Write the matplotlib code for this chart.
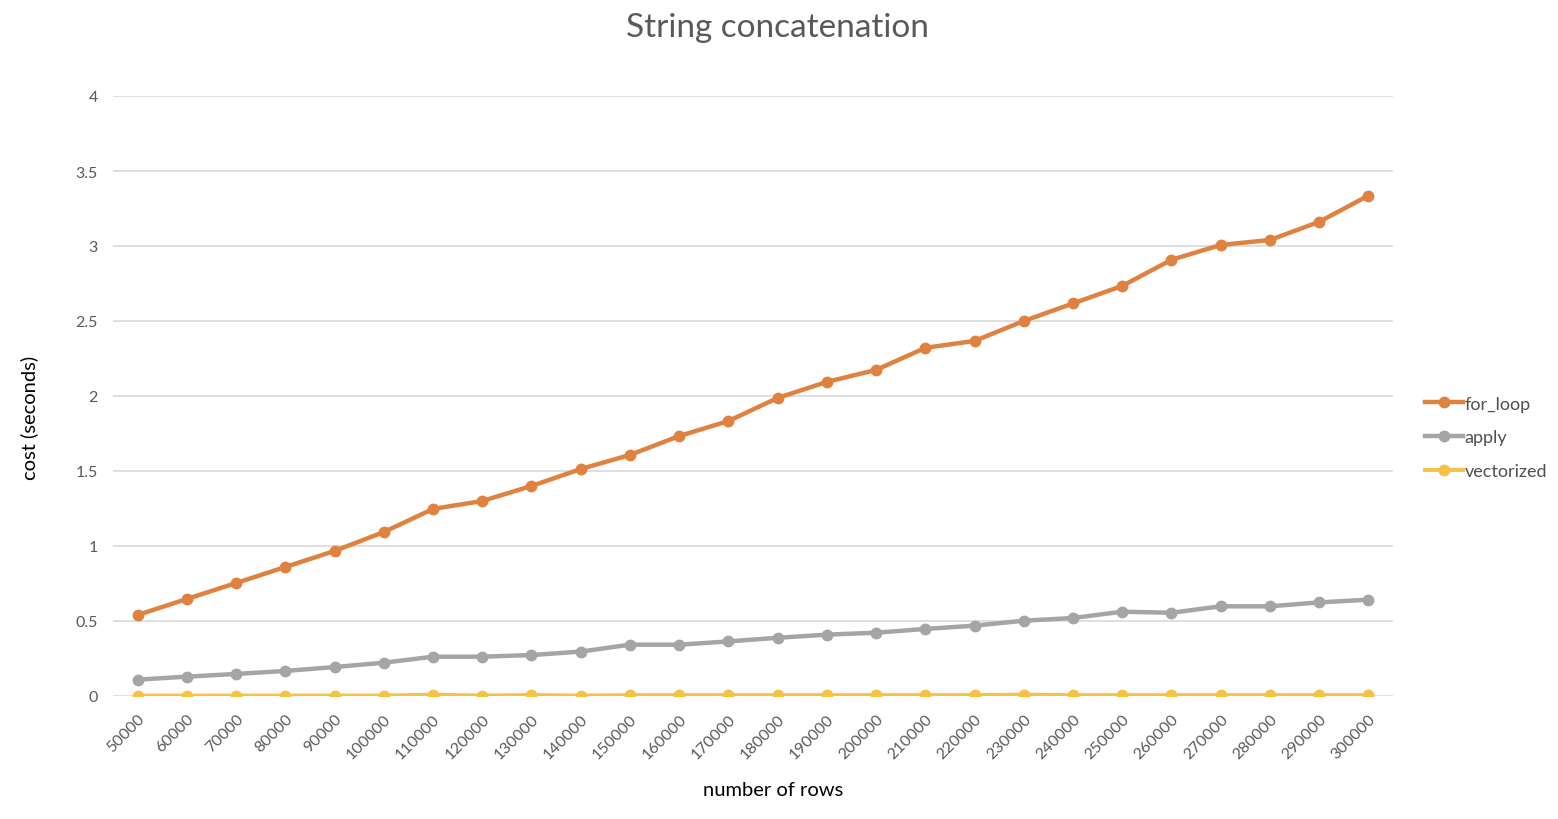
import matplotlib
matplotlib.use("Agg")
import matplotlib.pyplot as plt

rows = [50000, 60000, 70000, 80000, 90000, 100000, 110000, 120000, 130000,
        140000, 150000, 160000, 170000, 180000, 190000, 200000, 210000, 220000,
        230000, 240000, 250000, 260000, 270000, 280000, 290000, 300000]
for_loop = [0.54, 0.647, 0.753, 0.86, 0.967, 1.093, 1.247, 1.30, 1.40, 1.513,
            1.607, 1.733, 1.833, 1.987, 2.094, 2.174, 2.321, 2.367, 2.50, 2.617,
            2.734, 2.908, 3.007, 3.04, 3.161, 3.336]
apply_ = [0.109, 0.129, 0.147, 0.167, 0.193, 0.222, 0.262, 0.262, 0.273, 0.296,
          0.342, 0.342, 0.364, 0.388, 0.409, 0.422, 0.447, 0.469, 0.502, 0.52,
          0.562, 0.555, 0.598, 0.598, 0.624, 0.642]
vectorized = [0.003, 0.003, 0.003, 0.003, 0.003, 0.003, 0.009, 0.003, 0.007, 0.003,
              0.006, 0.006, 0.006, 0.006, 0.006, 0.006, 0.006, 0.006, 0.009, 0.006,
              0.006, 0.006, 0.006, 0.006, 0.006, 0.006]
series_names = ["for_loop", "apply", "vectorized"]
colors = ["#E0823F", "#A5A5A5", "#F5C242"]
yticks = [0, 0.5, 1, 1.5, 2, 2.5, 3, 3.5, 4]
ytick_labels = ["0", "0.5", "1", "1.5", "2", "2.5", "3", "3.5", "4"]

plt.rcParams['font.family'] = ['Lato', 'DejaVu Sans']

fig = plt.figure(figsize=(15.58, 8.2), dpi=100)
ax = fig.add_axes([113/1558, 1-697/820, (1393-113)/1558, 600/820])

x = list(range(len(rows)))
for name, vals, c, lw in zip(series_names, [for_loop, apply_, vectorized], colors, [3.2, 3.2, 2.8]):
    ax.plot(x, vals, color=c, lw=lw, marker='o', ms=7.5, label=name,
            solid_joinstyle='round', zorder=3)

ax.set_xlim(-0.5, len(rows)-0.5)
ax.set_ylim(0, 4)
ax.set_yticks(yticks)
ax.set_yticklabels(ytick_labels)
ax.set_xticks(x)
ax.set_xticklabels([str(r) for r in rows], rotation=45, ha='right', va='top',
                   rotation_mode='anchor')
ax.tick_params(axis='both', length=0, labelsize=11.5, labelcolor='#595959')
ax.tick_params(axis='y', pad=11)
ax.tick_params(axis='x', pad=11)
ax.grid(axis='y', color='#D9D9D9', lw=1.2)
ax.set_axisbelow(True)
for s in ax.spines.values():
    s.set_visible(False)

fig.text(29/1558, 1-418/820, "cost (seconds)", rotation=90, ha='center', va='center',
         fontsize=14.5, color='black')
fig.text(773/1558, 1-791/820, "number of rows", ha='center', va='center',
         fontsize=14.5, color='black')
fig.text(777/1558, 1-28/820, "String concatenation", ha='center', va='center',
         fontsize=24, color='#595959')

leg = ax.legend(loc='center left', bbox_to_anchor=(1.0194, 0.431), frameon=False,
                fontsize=13, handlelength=2.1, handletextpad=0.1, labelspacing=0.98,
                borderaxespad=0, labelcolor='#505050')

fig.savefig("out.png", dpi=100)
